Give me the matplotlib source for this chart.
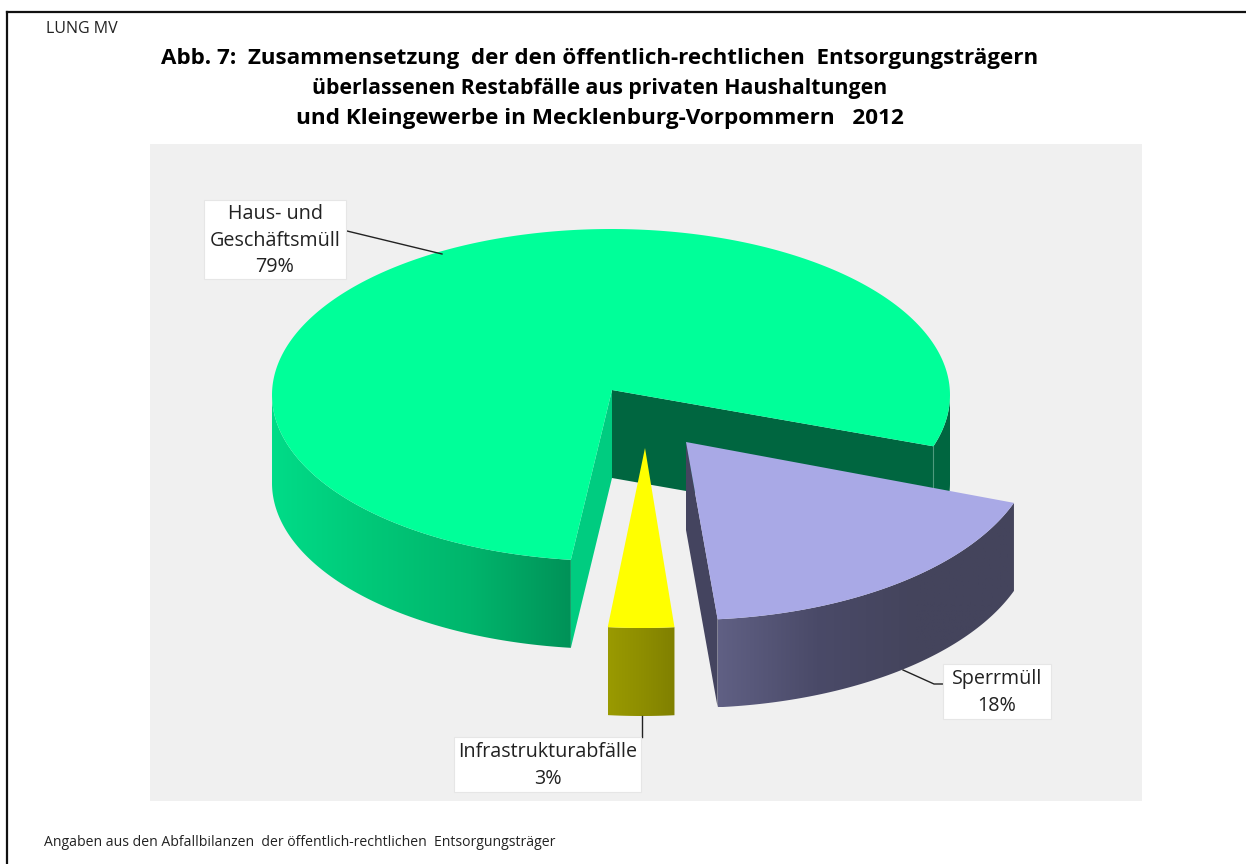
import numpy as np
import matplotlib
matplotlib.use('Agg')
import matplotlib.pyplot as plt
from matplotlib.colors import LinearSegmentedColormap
from matplotlib.patches import Polygon, Rectangle

plt.rcParams['font.family'] = ['Open Sans', 'DejaVu Sans']

# Data
labels = ['Haus- und\nGeschäftsmüll', 'Sperrmüll', 'Infrastrukturabfälle']
values = [79, 18, 3]
title_lines = ['Abb. 7:  Zusammensetzung  der den öffentlich-rechtlichen  Entsorgungsträgern',
               'überlassenen Restabfälle aus privaten Haushaltungen',
               'und Kleingewerbe in Mecklenburg-Vorpommern   2012']
source = 'LUNG MV'
footnote = 'Angaben aus den Abfallbilanzen  der öffentlich-rechtlichen  Entsorgungsträger'

DEPTH = 88
START = -20


def arc(cx, cy, rx, ry, a0, a1, n=120):
    t = np.radians(np.linspace(a0, a1, n))
    return np.column_stack([cx + rx * np.cos(t), cy - ry * np.sin(t)])


def down(pts, d=DEPTH):
    return pts + np.array([0, d])


def flat(ax, pts, color, z):
    ax.add_patch(Polygon(pts, closed=True, fc=color, ec='none', zorder=z))


def gradient(ax, pts, colors, z):
    # horizontal shading clipped to the wall outline
    cmap = LinearSegmentedColormap.from_list('wall', colors)
    x0, x1 = pts[:, 0].min(), pts[:, 0].max()
    y0, y1 = pts[:, 1].min(), pts[:, 1].max()
    im = ax.imshow(np.linspace(0, 1, 256).reshape(1, -1), cmap=cmap, aspect='auto',
                   extent=(x0, x1, y1, y0), zorder=z)
    clip = Polygon(pts, closed=True, transform=ax.transData, fc='none', ec='none')
    ax.add_patch(clip)
    im.set_clip_path(clip)


def label_box(ax, x0, y0, x1, y1, text):
    ax.add_patch(Rectangle((x0, y0), x1 - x0, y1 - y0, fc='white', ec='#e6e6e6', lw=0.8, zorder=20))
    ax.text((x0 + x1) / 2, (y0 + y1) / 2 + 1, text, ha='center', va='center', fontsize=14.2,
            color='#222222', linespacing=1.45, zorder=21)


fig = plt.figure(figsize=(12.46, 8.64), dpi=100)
ax = fig.add_axes([0, 0, 1, 1])
ax.axis('off')

ax.add_patch(Rectangle((150, 144), 992, 657, fc='#f0f0f0', ec='none', zorder=1))

# wedge angles come from the values
sweeps = [v / sum(values) * 360 for v in values]
g0, g1 = START, START + sweeps[0]
y0, y1 = g1, g1 + sweeps[2]
l0, l1 = y1, y1 + sweeps[1]

# main wedge, the rim is pulled in a little because of the perspective
apex = np.array([[612, 390]])
rim = arc(611, 395, 339, 166, g0 + 2, g1 - 1.2, 300)
cut_r = rim[0]
cut_l = rim[-1]
right_rim = arc(611, 395, 339, 166, g0 + 2, 0, 40)
front_rim = arc(611, 395, 339, 166, 180, g1 - 1.2, 120)

flat(ax, np.vstack([apex, [cut_r], down(np.array([cut_r])), down(apex)]), '#006640', 3)
flat(ax, np.vstack([right_rim, down(right_rim)[::-1]]), '#006640', 3)
ax.plot([cut_r[0], cut_r[0]], [cut_r[1], cut_r[1] + DEPTH], color='#4f9a7d', lw=0.8, zorder=4)
flat(ax, np.vstack([apex, [cut_l], down(np.array([cut_l])), down(apex)]), '#00cc80', 3)
gradient(ax, np.vstack([front_rim, down(front_rim)[::-1]]), ['#00dc88', '#00c878', '#00b56c', '#009258'], 3)
flat(ax, np.vstack([apex, rim]), '#00ff99', 5)

# yellow wedge
yel_apex = np.array([[645, 448]])
yel_rim = arc(642, 448, 345, 180, y0 - 0.1, y1 + 0.2, 30)
gradient(ax, np.vstack([yel_rim, down(yel_rim)[::-1]]), ['#9a9a00', '#8e8e00', '#808000'], 6)
flat(ax, np.vstack([yel_apex, yel_rim]), '#ffff00', 7)

# lilac wedge
lil_apex = np.array([[686, 442]])
lil_rim = arc(686, 442, 349, 178, l0, l1, 100)
flat(ax, np.vstack([lil_apex, [lil_rim[0]], down(np.array([lil_rim[0]])), down(lil_apex)]), '#44445f', 8)
gradient(ax, np.vstack([lil_rim, down(lil_rim)[::-1]]), ['#606084', '#4a4a68', '#44445c', '#44445c'], 8)
flat(ax, np.vstack([lil_apex, lil_rim]), '#a9a9e6', 9)

# leader lines
ax.plot([347, 442], [231, 254], color='#222222', lw=1, zorder=15)
ax.plot([903, 934, 943], [670, 684, 684], color='#222222', lw=1, zorder=15)
ax.plot([641.5, 641.5], [716, 737], color='#222222', lw=1, zorder=15)

# labels
label_box(ax, 204, 200, 346, 279, f'{labels[0]}\n{values[0]}%')
label_box(ax, 943, 664, 1051, 719, f'{labels[1]}\n{values[1]}%')
label_box(ax, 454, 737, 641, 792, f'{labels[2]}\n{values[2]}%')

# title and frame
for line, y, size in zip(title_lines, [58.5, 88.5, 118.5], [16.15, 15.3, 16.2]):
    ax.text(600, y, line, ha='center', va='center', fontsize=size, fontweight='bold', color='black')
ax.text(46, 29, source, ha='left', va='center', fontsize=11.5, color='#222222')
ax.text(44, 842, footnote, ha='left', va='center', fontsize=10.05, color='#222222')
ax.plot([7, 1246], [11.5, 11.5], color='#111111', lw=1.6, zorder=30)
ax.plot([7, 7], [11.5, 864], color='#111111', lw=1.6, zorder=30)

ax.set_xlim(0, 1246)
ax.set_ylim(864, 0)
fig.savefig('out.png', dpi=100, facecolor='white')
